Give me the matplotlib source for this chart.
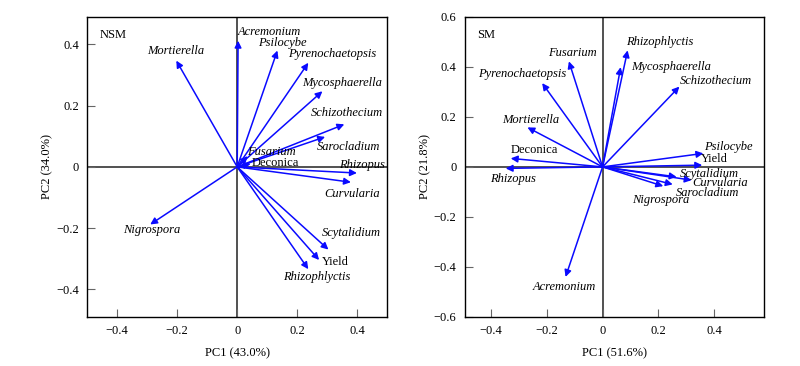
"""PCA biplots of fungal genera and yield, NSM and SM"""
import matplotlib
matplotlib.use("Agg")
import matplotlib.pyplot as plt

plt.rcParams['font.family'] = ['Liberation Serif', 'DejaVu Serif']
plt.rcParams['mathtext.fontset'] = 'stix'

# loadings (PC1, PC2)
nsm_names = ["Acremonium", "Psilocybe", "Pyrenochaetopsis", "Mycosphaerella",
             "Schizothecium", "Sarocladium", "Mortierella", "Fusarium",
             "Deconica", "Rhizopus", "Curvularia", "Nigrospora",
             "Scytalidium", "Yield", "Rhizophlyctis"]
nsm_pc1 = [0.003, 0.134, 0.237, 0.284, 0.357, 0.293, -0.203, 0.035,
           0.045, 0.399, 0.379, -0.29, 0.304, 0.273, 0.237]
nsm_pc2 = [0.412, 0.38, 0.34, 0.247, 0.139, 0.098, 0.347, 0.035,
           0.01, -0.02, -0.05, -0.188, -0.27, -0.304, -0.334]

sm_names = ["Rhizophlyctis", "Mycosphaerella", "Schizothecium", "Fusarium",
            "Pyrenochaetopsis", "Mortierella", "Deconica", "Rhizopus",
            "Psilocybe", "Yield", "Scytalidium", "Curvularia",
            "Sarocladium", "Nigrospora", "Acremonium"]
sm_pc1 = [0.09, 0.065, 0.276, -0.121, -0.217, -0.27, -0.33, -0.348,
          0.362, 0.358, 0.266, 0.32, 0.252, 0.218, -0.133]
sm_pc2 = [0.466, 0.399, 0.321, 0.422, 0.335, 0.158, 0.034, -0.006,
          0.054, 0.007, -0.04, -0.053, -0.07, -0.077, -0.44]

# where each label sits (left edge, vertical centre), data coords
nsm_label_pos = {
    "Acremonium": (0.003, 0.439), "Psilocybe": (0.071, 0.403),
    "Pyrenochaetopsis": (0.168, 0.37), "Mycosphaerella": (0.215, 0.274),
    "Schizothecium": (0.245, 0.175), "Sarocladium": (0.265, 0.066),
    "Mortierella": (-0.301, 0.38), "Fusarium": (0.033, 0.049),
    "Deconica": (0.047, 0.012), "Rhizopus": (0.339, 0.006),
    "Curvularia": (0.289, -0.089), "Nigrospora": (-0.38, -0.207),
    "Scytalidium": (0.281, -0.215), "Yield": (0.281, -0.309),
    "Rhizophlyctis": (0.154, -0.359)}
sm_label_pos = {
    "Rhizophlyctis": (0.084, 0.5), "Mycosphaerella": (0.102, 0.399),
    "Schizothecium": (0.278, 0.344), "Fusarium": (-0.197, 0.455),
    "Pyrenochaetopsis": (-0.448, 0.372), "Mortierella": (-0.36, 0.188),
    "Deconica": (-0.33, 0.067), "Rhizopus": (-0.403, -0.047),
    "Psilocybe": (0.364, 0.08), "Yield": (0.352, 0.031),
    "Scytalidium": (0.278, -0.027), "Curvularia": (0.324, -0.064),
    "Sarocladium": (0.264, -0.104), "Nigrospora": (0.106, -0.131),
    "Acremonium": (-0.25, -0.479)}

plain = {"Yield", "Deconica"}  # not set in italics


def biplot(ax, names, pc1, pc2, label_pos, tag, xlabel, ylabel):
    ax.axhline(0, color='#333333', lw=1.2, zorder=1)
    ax.axvline(0, color='#333333', lw=1.2, zorder=1)
    for name, x, y in zip(names, pc1, pc2):
        ax.annotate('', xy=(x, y), xytext=(0, 0),
                    arrowprops=dict(arrowstyle='-|>', color='#0a0aff',
                                    lw=1.1, mutation_scale=10,
                                    shrinkA=0, shrinkB=0), zorder=3)
        lx, ly = label_pos[name]
        ax.text(lx, ly, name, fontsize=9, ha='left', va='center',
                style='normal' if name in plain else 'italic', zorder=4)
    ax.text(0.04, 0.94, tag, transform=ax.transAxes, fontsize=9,
            ha='left', va='center')
    ax.set_xlabel(xlabel, fontsize=9, labelpad=7)
    ax.set_ylabel(ylabel, fontsize=9, labelpad=2)
    ax.tick_params(direction='in', length=6, width=0.8, color='#666666',
                   labelsize=9, pad=6)
    for s in ax.spines.values():
        s.set_linewidth(1.0)


fig = plt.figure(figsize=(8, 3.66), dpi=100)
ax1 = fig.add_axes([0.109, 0.134, 0.375, 0.82])
ax2 = fig.add_axes([0.581, 0.134, 0.374, 0.82])

biplot(ax1, nsm_names, nsm_pc1, nsm_pc2, nsm_label_pos, "NSM",
       "PC1 (43.0%)", "PC2 (34.0%)")
ax1.set_xlim(-0.5, 0.5)
ax1.set_ylim(-0.49, 0.49)
ax1.set_xticks([-0.4, -0.2, 0, 0.2, 0.4])
ax1.set_xticklabels(["\u22120.4", "\u22120.2", "0", "0.2", "0.4"])
ax1.set_yticks([-0.4, -0.2, 0, 0.2, 0.4])
ax1.set_yticklabels(["\u22120.4", "\u22120.2", "0", "0.2", "0.4"])

biplot(ax2, sm_names, sm_pc1, sm_pc2, sm_label_pos, "SM",
       "PC1 (51.6%)", "PC2 (21.8%)")
ax2.set_xlim(-0.495, 0.58)
ax2.set_ylim(-0.6, 0.6)
ax2.set_xticks([-0.4, -0.2, 0, 0.2, 0.4])
ax2.set_xticklabels(["\u22120.4", "\u22120.2", "0", "0.2", "0.4"])
ax2.set_yticks([-0.6, -0.4, -0.2, 0, 0.2, 0.4, 0.6])
ax2.set_yticklabels(["\u22120.6", "\u22120.4", "\u22120.2", "0", "0.2",
                     "0.4", "0.6"])

fig.savefig("out.png", dpi=100)
